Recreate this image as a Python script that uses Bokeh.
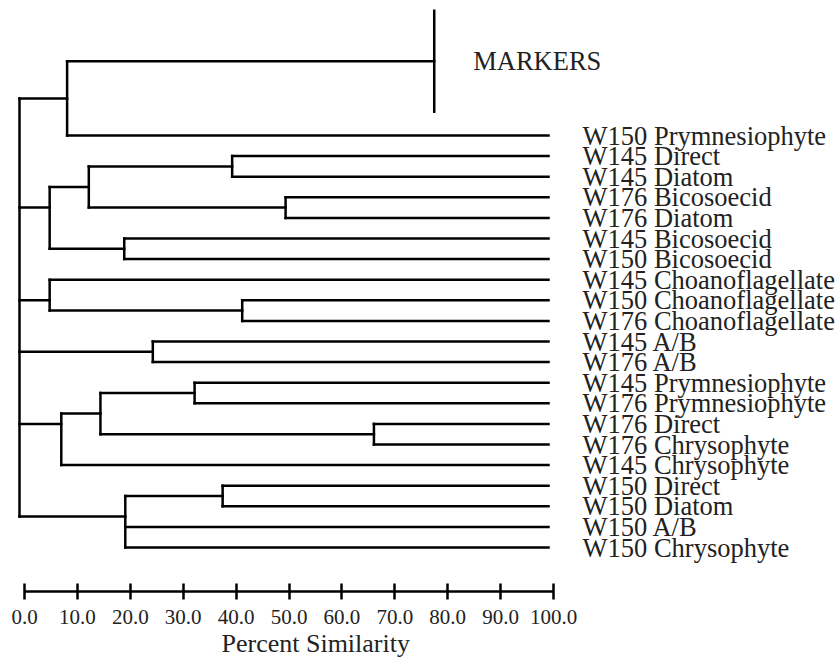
from bokeh.plotting import figure
from bokeh.models import (Range1d, LinearAxis, FixedTicker, PrintfTickFormatter,
                          Title, ColumnDataSource)
from bokeh.embed import file_html
from bokeh.resources import INLINE
from bokeh.core.properties import value

# ---------------- data ----------------
leaf_names = [
    "W150 Prymnesiophyte", "W145 Direct", "W145 Diatom", "W176 Bicosoecid",
    "W176 Diatom", "W145 Bicosoecid", "W150 Bicosoecid", "W145 Choanoflagellate",
    "W150 Choanoflagellate", "W176 Choanoflagellate", "W145 A/B", "W176 A/B",
    "W145 Prymnesiophyte", "W176 Prymnesiophyte", "W176 Direct", "W176 Chrysophyte",
    "W145 Chrysophyte", "W150 Direct", "W150 Diatom", "W150 A/B", "W150 Chrysophyte",
]
leaf_similarity = 100.0
marker_name = "MARKERS"
marker_similarity = 78.4

node_names = ["n1", "n2", "n3", "n4", "n5", "n6", "n7", "n8", "n9", "n10",
              "n11", "n12", "n13", "n14", "n15", "root"]
node_similarity = [40.2, 50.3, 13.1, 19.8, 5.7, 42.1, 5.7, 25.2, 33.1, 67.0,
                   15.3, 7.9, 38.4, 20.0, 9.0, 0.0]
node_children = [
    ["W145 Direct", "W145 Diatom"],
    ["W176 Bicosoecid", "W176 Diatom"],
    ["n1", "n2"],
    ["W145 Bicosoecid", "W150 Bicosoecid"],
    ["n3", "n4"],
    ["W150 Choanoflagellate", "W176 Choanoflagellate"],
    ["W145 Choanoflagellate", "n6"],
    ["W145 A/B", "W176 A/B"],
    ["W145 Prymnesiophyte", "W176 Prymnesiophyte"],
    ["W176 Direct", "W176 Chrysophyte"],
    ["n9", "n10"],
    ["n11", "W145 Chrysophyte"],
    ["W150 Direct", "W150 Diatom"],
    ["n13", "W150 A/B", "W150 Chrysophyte"],
    ["MARKERS", "W150 Prymnesiophyte"],
    ["n15", "n5", "n7", "n8", "n12", "n14"],
]
tick_values = [0, 10, 20, 30, 40, 50, 60, 70, 80, 90, 100]
axis_title = "Percent Similarity"

# ---------------- layout ----------------
MARKER_ROW = -3.6      # row position of the marker lane above the leaves
MARKER_HALF = 2.45     # half length of the marker bar, in rows

# each entry: (similarity, attach row, list of descendant leaf rows)
pos = {name: (leaf_similarity, i, [i]) for i, name in enumerate(leaf_names)}
pos[marker_name] = (marker_similarity, MARKER_ROW, [MARKER_ROW])

x0, y0, x1, y1 = [], [], [], []
for name, sim, kids in zip(node_names, node_similarity, node_children):
    ys = [pos[k][1] for k in kids]
    rows = []
    for k in kids:
        kx, ky, krows = pos[k]
        rows += krows
        x0.append(sim); y0.append(ky); x1.append(kx); y1.append(ky)
    x0.append(sim); y0.append(min(ys)); x1.append(sim); y1.append(max(ys))
    # the branch joins its parent at the centroid of its leaves
    pos[name] = (sim, sum(rows) / len(rows), rows)

# marker bar
x0.append(marker_similarity); y0.append(MARKER_ROW - MARKER_HALF)
x1.append(marker_similarity); y1.append(MARKER_ROW + MARKER_HALF)

seg_src = ColumnDataSource(dict(x0=x0, y0=y0, x1=x1, y1=y1))

W, FH = 839, 591
PX = 5.29           # pixels per percent
X0PIX = 19          # pixel of 0 % for the tree
ROW0, ROWPX = 135, 20.6
p = figure(frame_width=W, frame_height=FH,
           x_range=Range1d(-X0PIX / PX, (W - X0PIX) / PX),
           y_range=Range1d((FH - ROW0) / ROWPX, -ROW0 / ROWPX),
           x_axis_type=None, y_axis_type=None,
           toolbar_location=None, output_backend="svg",
           min_border=0, min_border_bottom=75)
p.outline_line_color = None
p.background_fill_color = "white"
p.border_fill_color = "white"

p.segment("x0", "y0", "x1", "y1", source=seg_src, line_width=2.5,
          line_color="black", line_cap="square")

lab_src = ColumnDataSource(dict(x=[leaf_similarity] * len(leaf_names),
                                y=list(range(len(leaf_names))), t=leaf_names))
p.text("x", "y", text="t", source=lab_src, x_offset=34, text_baseline="middle",
       text_font=value("Liberation Serif"), text_font_size="26.5px", text_color="#222222")
p.text(x=[marker_similarity], y=[MARKER_ROW], text=[marker_name], x_offset=39,
       text_baseline="middle", text_font=value("Liberation Serif"),
       text_font_size="26.5px", text_color="#222222")

# the printed scale sits a few pixels to the right of the tree
AX0 = 24
p.extra_x_ranges = {"scale": Range1d(-AX0 / PX, (W - AX0) / PX)}
ax = LinearAxis(x_range_name="scale", ticker=FixedTicker(ticks=tick_values),
                formatter=PrintfTickFormatter(format="%.1f"), bounds=(0, 100))
ax.axis_line_width = 2.5
ax.axis_line_color = "black"
ax.major_tick_line_width = 2.5
ax.major_tick_line_color = "black"
ax.major_tick_in = 8
ax.major_tick_out = 8
ax.minor_tick_line_color = None
ax.major_label_text_font = "Liberation Serif"
ax.major_label_text_font_size = "21px"
ax.major_label_text_color = "#222222"
ax.major_label_standoff = 10
p.add_layout(ax, "below")

t = Title(text=axis_title, align="left", offset=221, standoff=0,
          vertical_align="bottom", text_line_height=1.4,
          text_font="Liberation Serif", text_font_size="26px",
          text_font_style="normal", text_color="#222222")
p.add_layout(t, "below")

open("out.html", "w").write(file_html(p, INLINE))
